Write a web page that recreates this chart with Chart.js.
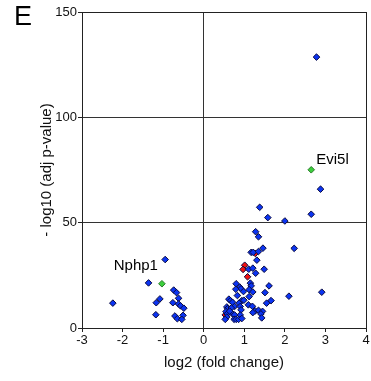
<!DOCTYPE html>
<html>
<head>
<meta charset="utf-8">
<script src="https://cdn.jsdelivr.net/npm/chart.js@4"></script>
<style>
  html, body { margin: 0; padding: 0; background: #fff; }
  #wrap { position: relative; width: 371px; height: 381px; }
  #panel { position: absolute; left: 14px; top: 1px; font: 27px "Liberation Sans", Arial, sans-serif; color: #000; }
</style>
</head>
<body>
<div id="wrap">
  <canvas id="c" width="371" height="381"></canvas>
  <div id="panel">E</div>
</div>
<script>
const blueX = [2.78, 2.88, 1.38, 1.58, 2.0, 2.65, 1.28, 1.35, 1.46, 2.23, 1.17, 1.22, 1.35, 1.31, 1.11, 1.21, 1.49, 1.28,
  0.80, 1.15, 1.17, 1.61, 0.89, 0.92, 0.79, 0.98, 1.12, 1.21, 1.51, 2.91, 2.10, 0.83, 1.12, 0.62, 0.66, 0.71, 0.94, 0.99,
  0.87, 1.66, 1.55, 1.10, 1.20, 0.57, 0.59, 0.55, 0.58, 0.57, 0.76, 0.90, 1.27, 1.35, 1.45, 0.92, 0.90, 0.71, 0.76, 0.53,
  0.75, 0.80, 0.86, 0.94, 1.41, 1.43, 1.21, 0.68, 0.64,
  -0.95, -1.36, -2.24, -0.74, -0.67, -0.62, -1.08, -1.17, -0.76, -0.62, -0.57, -0.49, -1.18, -0.71, -0.65, -0.51, -0.54];
const blueY = [128.6, 65.9, 57.3, 52.4, 50.8, 54.0, 45.7, 43.3, 37.9, 37.8, 35.9, 35.9, 36.3, 32.2, 27.9, 28.4, 27.9, 26.0,
  21.0, 21.3, 20.0, 20.0, 19.4, 18.6, 18.4, 17.3, 18.2, 17.1, 16.8, 17.0, 15.1, 15.4, 14.9, 13.7, 13.0, 12.2, 13.0, 13.2,
  11.8, 13.0, 11.8, 11.0, 10.3, 10.0, 9.2, 7.8, 6.7, 5.2, 10.2, 10.2, 8.1, 8.4, 7.9, 8.6, 6.2, 6.7, 6.2, 4.1,
  4.1, 4.1, 4.1, 4.5, 6.7, 4.8, 7.3, 9.5, 8.0,
  32.5, 21.4, 11.8, 18.0, 16.8, 14.1, 13.8, 12.0, 12.0, 11.4, 10.5, 9.4, 6.3, 5.7, 4.4, 6.0, 4.1];
const redX = [1.27, 1.01, 0.97, 1.08, 0.53];
const redY = [35.4, 29.8, 27.8, 24.3, 6.2];
const greenX = [2.65, -1.03];
const greenY = [75.1, 21.0];
const geneNames = ["Evi5l", "Nphp1"];
const xTicks = [-3, -2, -1, 0, 1, 2, 3, 4];
const yTicks = [0, 50, 100, 150];

const toPoints = (xs, ys) => xs.map((x, i) => ({ x, y: ys[i] }));
const font = "'Liberation Sans', Arial, sans-serif";
const lineAt = (vals, edges) => (ctx) => {
  const v = ctx.tick ? ctx.tick.value : null;
  if (edges.includes(v)) return "#222";
  if (vals.includes(v)) return "#333";
  return "rgba(0,0,0,0)";
};

const geneLabels = {
  id: "geneLabels",
  afterDatasetsDraw(chart) {
    const { ctx, scales } = chart;
    ctx.save();
    ctx.font = "15px " + font;
    ctx.fillStyle = "#000";
    ctx.textBaseline = "alphabetic";
    // Evi5l: right of and above its point
    ctx.textAlign = "left";
    ctx.fillText(geneNames[0], scales.x.getPixelForValue(greenX[0]) + 5, scales.y.getPixelForValue(greenY[0]) - 6);
    // Nphp1: left of and above its point
    ctx.textAlign = "right";
    ctx.fillText(geneNames[1], scales.x.getPixelForValue(greenX[1]) - 4, scales.y.getPixelForValue(greenY[1]) - 14);
    ctx.restore();
  }
};

const pointStyle = { pointStyle: "rectRot", pointRadius: 3.3, pointBorderWidth: 1, pointBorderColor: "#0a0a40" };

new Chart(document.getElementById("c"), {
  type: "scatter",
  data: {
    datasets: [
      { label: "other", data: toPoints(blueX, blueY), pointBackgroundColor: "#0b34f2", ...pointStyle },
      { label: "red", data: toPoints(redX, redY), pointBackgroundColor: "#f01010", ...pointStyle },
      { label: "named", data: toPoints(greenX, greenY), pointBackgroundColor: "#3ccf3c", ...pointStyle, pointBorderColor: "#2a7a2a" }
    ]
  },
  options: {
    responsive: false,
    animation: false,
    layout: { padding: { left: 0, right: 5, top: 12, bottom: 0 } },
    plugins: { legend: { display: false }, tooltip: { enabled: false } },
    scales: {
      x: {
        type: "linear", min: -3, max: 4,
        afterBuildTicks: (s) => { s.ticks = xTicks.map((v) => ({ value: v })); },
        afterFit: (s) => { s.height = 53; },
        grid: { color: lineAt([0], [-3, 4]), tickColor: "#222", tickLength: 4, lineWidth: 1 },
        border: { display: true, color: "#222" },
        ticks: { color: "#111", font: { family: font, size: 13 }, padding: 1, maxRotation: 0 },
        title: { display: true, text: "log2 (fold change)", color: "#111", font: { family: font, size: 15 }, padding: { top: 9, bottom: 9 } }
      },
      y: {
        type: "linear", min: 0, max: 150,
        afterBuildTicks: (s) => { s.ticks = yTicks.map((v) => ({ value: v })); },
        afterFit: (s) => { s.width = 82; },
        grid: { color: lineAt([50, 100], [150]), tickColor: "#222", tickLength: 4, lineWidth: 1 },
        border: { display: true, color: "#222" },
        ticks: { color: "#111", font: { family: font, size: 13 }, padding: 1 },
        title: { display: true, text: "- log10 (adj p-value)", color: "#111", font: { family: font, size: 15 }, padding: { top: 38, bottom: 0 } }
      }
    }
  },
  plugins: [geneLabels]
});
</script>
</body>
</html>
